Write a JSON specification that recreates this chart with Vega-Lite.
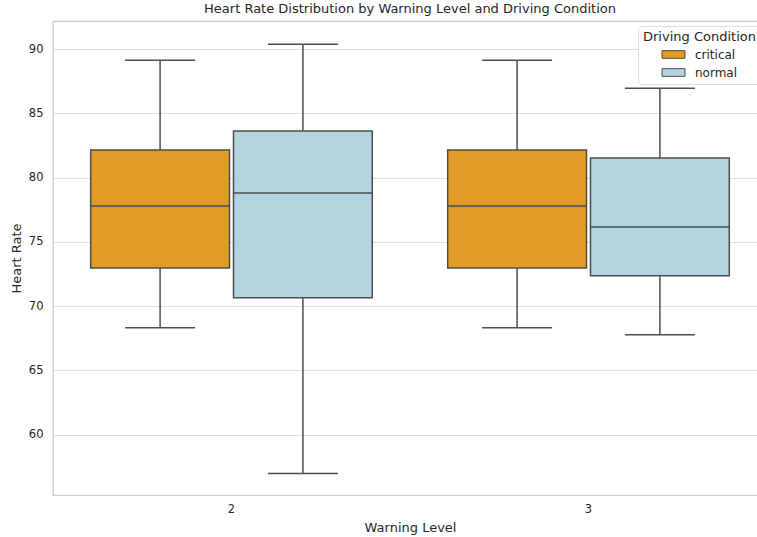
{
  "$schema": "https://vega.github.io/schema/vega-lite/v6.json",
  "width": 714,
  "height": 474,
  "autosize": {"type": "none"},
  "padding": {"left": 53, "top": 21, "right": 0, "bottom": 42},
  "background": "white",
  "title": {
    "text": "Heart Rate Distribution by Warning Level and Driving Condition",
    "font": "DejaVu Sans",
    "fontSize": 13,
    "fontWeight": "normal",
    "color": "#262626",
    "anchor": "middle",
    "offset": 5
  },
  "config": {
    "view": {"stroke": "#cccccc", "strokeWidth": 1.2},
    "font": "DejaVu Sans",
    "axis": {
      "labelFont": "DejaVu Sans",
      "titleFont": "DejaVu Sans",
      "labelColor": "#262626",
      "titleColor": "#262626",
      "labelFontSize": 11.5,
      "titleFontSize": 13,
      "titleFontWeight": "normal",
      "ticks": false,
      "domain": false,
      "gridColor": "#dddddd",
      "gridWidth": 1
    },
    "legend": {
      "labelFont": "DejaVu Sans",
      "titleFont": "DejaVu Sans"
    }
  },
  "data": {
    "values": [
      {"level": "2", "condition": "critical", "min": 68.32, "q1": 72.98, "median": 77.8, "q3": 82.15, "max": 89.15},
      {"level": "2", "condition": "normal", "min": 56.97, "q1": 70.65, "median": 78.81, "q3": 83.63, "max": 90.39},
      {"level": "3", "condition": "critical", "min": 68.32, "q1": 72.98, "median": 77.8, "q3": 82.15, "max": 89.15},
      {"level": "3", "condition": "normal", "min": 67.77, "q1": 72.36, "median": 76.17, "q3": 81.53, "max": 86.97}
    ]
  },
  "encoding": {
    "x": {
      "field": "level",
      "type": "nominal",
      "title": "Warning Level",
      "scale": {"paddingInner": 0.2, "paddingOuter": 0.1},
      "axis": {"labelAngle": 0, "labelPadding": 8, "titlePadding": 7, "grid": false}
    },
    "xOffset": {
      "field": "condition",
      "type": "nominal",
      "scale": {"paddingInner": 0.028, "paddingOuter": 0.014}
    }
  },
  "layer": [
    {
      "mark": {"type": "rule", "color": "#4d4d4d", "strokeWidth": 1.5},
      "encoding": {
        "y": {
          "field": "min",
          "type": "quantitative",
          "title": "Heart Rate",
          "scale": {"domain": [55.3, 92.2], "nice": false, "zero": false},
          "axis": {"values": [60, 65, 70, 75, 80, 85, 90], "labelPadding": 10, "titlePadding": 5, "grid": true}
        },
        "y2": {"field": "max"}
      }
    },
    {
      "mark": {"type": "bar", "stroke": "#4d4d4d", "strokeWidth": 1.5, "opacity": 1},
      "encoding": {
        "y": {"field": "q1", "type": "quantitative"},
        "y2": {"field": "q3"},
        "color": {
          "field": "condition",
          "type": "nominal",
          "title": "Driving Condition",
          "scale": {"domain": ["critical", "normal"], "range": ["#e09c24", "#b3d4de"]},
          "legend": {
            "orient": "none",
            "legendX": 585,
            "legendY": 5,
            "padding": 5,
            "strokeColor": "#dddddd",
            "fillColor": "white",
            "cornerRadius": 3,
            "titleFontSize": 13,
            "titleFontWeight": "normal",
            "titleColor": "#262626",
            "labelFontSize": 12,
            "labelColor": "#262626",
            "symbolType": "M-1.5,-0.5H1.5V0.5H-1.5Z",
            "symbolSize": 235,
            "symbolStrokeColor": "#4d4d4d",
            "symbolStrokeWidth": 1,
            "symbolOffset": 22,
            "labelOffset": 13,
            "rowPadding": 3,
            "titlePadding": 2
          }
        }
      }
    },
    {
      "mark": {"type": "tick", "color": "#4d4d4d", "thickness": 1.5, "size": 139, "opacity": 1},
      "encoding": {"y": {"field": "median", "type": "quantitative"}}
    },
    {
      "mark": {"type": "tick", "color": "#4d4d4d", "thickness": 1.5, "size": 70, "opacity": 1},
      "encoding": {"y": {"field": "min", "type": "quantitative"}}
    },
    {
      "mark": {"type": "tick", "color": "#4d4d4d", "thickness": 1.5, "size": 70, "opacity": 1},
      "encoding": {"y": {"field": "max", "type": "quantitative"}}
    }
  ]
}
